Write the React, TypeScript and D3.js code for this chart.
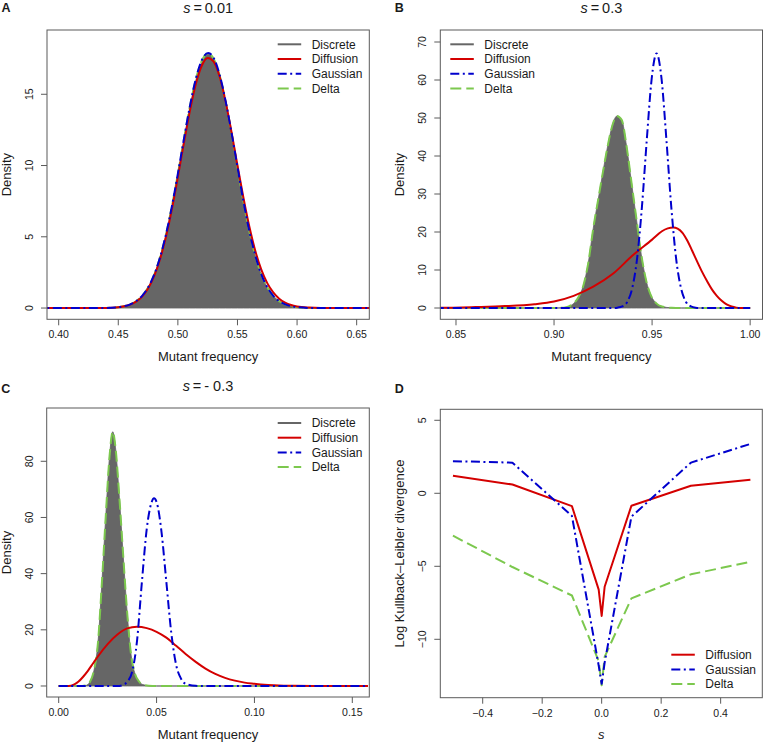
import React from 'react';
import * as d3 from 'd3';

type Pt = [number, number];

// ---- panel A : s = 0.01 ----
const discreteA: Pt[] = [
  [0.38, 0], [0.44, 0.01], [0.45, 0.06], [0.455, 0.13], [0.46, 0.26], [0.465, 0.48], [0.47, 0.85],
  [0.475, 1.43], [0.48, 2.3], [0.485, 3.52], [0.49, 5.12], [0.495, 7.1], [0.5, 9.37], [0.505, 11.75],
  [0.51, 14.04], [0.515, 15.96], [0.52, 17.28], [0.5255, 17.8], [0.53, 17.45], [0.535, 16.29],
  [0.54, 14.46], [0.545, 12.23], [0.55, 9.84], [0.555, 7.45], [0.56, 5.35], [0.565, 3.65], [0.57, 2.35],
  [0.575, 1.45], [0.58, 0.86], [0.585, 0.48], [0.59, 0.26], [0.595, 0.13], [0.6, 0.06], [0.61, 0.01], [0.67, 0],
];
const diffusionA: Pt[] = [
  [0.38, 0], [0.44, 0.01], [0.45, 0.05], [0.455, 0.12], [0.46, 0.24], [0.465, 0.45], [0.47, 0.8],
  [0.475, 1.37], [0.48, 2.22], [0.485, 3.42], [0.49, 5.0], [0.495, 6.95], [0.5, 9.2], [0.505, 11.55],
  [0.51, 13.8], [0.515, 15.7], [0.52, 17.0], [0.525, 17.55], [0.53, 17.3], [0.535, 16.25], [0.54, 14.5],
  [0.545, 12.35], [0.55, 10.0], [0.555, 7.75], [0.56, 5.7], [0.565, 4.0], [0.57, 2.7], [0.575, 1.75],
  [0.58, 1.1], [0.585, 0.66], [0.59, 0.38], [0.595, 0.21], [0.6, 0.11], [0.61, 0.03], [0.62, 0.005], [0.67, 0],
];
const gaussianA: Pt[] = [
  [0.38, 0], [0.44, 0.01], [0.45, 0.06], [0.455, 0.13], [0.46, 0.26], [0.465, 0.48], [0.47, 0.86],
  [0.475, 1.44], [0.48, 2.32], [0.485, 3.55], [0.49, 5.16], [0.495, 7.15], [0.5, 9.43], [0.505, 11.83],
  [0.51, 14.13], [0.515, 16.06], [0.52, 17.38], [0.5255, 17.9], [0.53, 17.55], [0.535, 16.38],
  [0.54, 14.54], [0.545, 12.3], [0.55, 9.9], [0.555, 7.5], [0.56, 5.38], [0.565, 3.67], [0.57, 2.36],
  [0.575, 1.46], [0.58, 0.86], [0.585, 0.48], [0.59, 0.26], [0.595, 0.13], [0.6, 0.06], [0.61, 0.01], [0.67, 0],
];
const deltaA: Pt[] = [
  [0.38, 0], [0.44, 0.01], [0.45, 0.06], [0.455, 0.13], [0.46, 0.26], [0.465, 0.48], [0.47, 0.86],
  [0.475, 1.44], [0.48, 2.31], [0.485, 3.54], [0.49, 5.14], [0.495, 7.13], [0.5, 9.4], [0.505, 11.8],
  [0.51, 14.1], [0.515, 16.02], [0.52, 17.34], [0.5255, 17.86], [0.53, 17.5], [0.535, 16.34],
  [0.54, 14.5], [0.545, 12.27], [0.55, 9.87], [0.555, 7.48], [0.56, 5.37], [0.565, 3.66], [0.57, 2.36],
  [0.575, 1.46], [0.58, 0.86], [0.585, 0.48], [0.59, 0.26], [0.595, 0.13], [0.6, 0.06], [0.61, 0.01], [0.67, 0],
];

// ---- panel B : s = 0.3 ----
const discreteB: Pt[] = [
  [0.83, 0], [0.9, 0], [0.905, 0.1], [0.9075, 0.4], [0.91, 1.2], [0.9125, 2.9], [0.915, 6.0], [0.9175, 12],
  [0.92, 21], [0.9225, 28.5], [0.925, 36], [0.9275, 43], [0.93, 48.5], [0.932, 50.5], [0.9345, 49.5],
  [0.937, 42.5], [0.9395, 33], [0.942, 23.5], [0.9445, 14], [0.947, 7.2], [0.9495, 3.2], [0.952, 1.3],
  [0.955, 0.4], [0.96, 0.05], [0.965, 0], [1.0, 0],
];
const diffusionB: Pt[] = [
  [0.83, 0.03], [0.842, 0.05], [0.86, 0.25], [0.875, 0.5], [0.89, 1.0], [0.9, 1.7], [0.91, 3.2], [0.92, 5.6],
  [0.93, 9.0], [0.94, 13.8], [0.95, 18.0], [0.955, 20.2], [0.958, 20.95], [0.9608, 21.2], [0.963, 20.9],
  [0.9655, 19.8], [0.968, 17.7], [0.9705, 15.0], [0.973, 12.2], [0.9755, 9.5], [0.978, 7.1], [0.9805, 4.9],
  [0.983, 3.2], [0.9855, 1.9], [0.988, 0.95], [0.9905, 0.4], [0.993, 0.1], [0.995, 0], [1.0, 0],
];
const gaussianB: Pt[] = [
  [0.83, 0], [0.93, 0], [0.9323, 0.09], [0.9348, 0.42], [0.9373, 1.6], [0.9398, 5.1], [0.9423, 12.8],
  [0.9448, 26.5], [0.9473, 44.3], [0.9498, 60.4], [0.9523, 67], [0.9548, 60.4], [0.9573, 44.3],
  [0.9598, 26.5], [0.9623, 12.8], [0.9648, 5.1], [0.9673, 1.6], [0.9698, 0.42], [0.9723, 0.09], [0.975, 0], [1.0, 0],
];
const deltaB: Pt[] = discreteB;

// ---- panel C : s = -0.3 ----
const discreteC: Pt[] = [
  [0, 0], [0.012, 0], [0.014, 0.2], [0.016, 1.5], [0.018, 5.5], [0.02, 15], [0.022, 36], [0.024, 60],
  [0.026, 82], [0.0276, 90.5], [0.029, 85], [0.031, 67], [0.033, 46], [0.035, 26], [0.037, 11],
  [0.039, 4.3], [0.041, 1.6], [0.043, 0.5], [0.046, 0.1], [0.05, 0], [0.158, 0],
];
const diffusionC: Pt[] = [
  [0, 0], [0.005, 0], [0.008, 0.6], [0.01, 1.5], [0.0125, 3.3], [0.015, 5.5], [0.0175, 8], [0.02, 10.5],
  [0.025, 14.9], [0.03, 18.3], [0.035, 20.5], [0.04, 21.1], [0.045, 20.6], [0.05, 19.3], [0.055, 17.2],
  [0.06, 14.3], [0.065, 11.3], [0.07, 8.6], [0.075, 6.2], [0.08, 4.3], [0.085, 2.9], [0.09, 1.9],
  [0.095, 1.2], [0.1, 0.8], [0.105, 0.45], [0.11, 0.25], [0.115, 0.12], [0.12, 0.06], [0.13, 0.02],
  [0.14, 0], [0.158, 0],
];
const gaussianC: Pt[] = [
  [0, 0], [0.03, 0], [0.033, 0.4], [0.035, 1.5], [0.0375, 5], [0.04, 16], [0.0425, 37], [0.045, 56],
  [0.0475, 65.5], [0.0487, 66.8], [0.05, 65.5], [0.0525, 55], [0.055, 37], [0.0575, 19], [0.06, 7.5],
  [0.0625, 2.6], [0.065, 0.7], [0.07, 0.05], [0.075, 0], [0.158, 0],
];
const deltaC: Pt[] = discreteC;

// ---- panel D : log KL divergence vs s ----
const sValues = [-0.5, -0.3, -0.1, -0.01, 0, 0.01, 0.1, 0.3, 0.5];
const klDiffusion = [1.2, 0.6, -0.88, -6.6, -8.4, -6.4, -0.85, 0.52, 0.92];
const klGaussian = [2.2, 2.1, -1.55, -11.8, -13.05, -11.6, -1.6, 2.1, 3.38];
const klDelta = [-2.9, -5.05, -7.0, -11.5, -13.15, -11.2, -7.2, -5.55, -4.7];

const ticksA = [0.4, 0.45, 0.5, 0.55, 0.6, 0.65];
const ticksB = [0.85, 0.9, 0.95, 1.0];
const ticksC = [0, 0.05, 0.1, 0.15];
const ticksD = [-0.4, -0.2, 0, 0.2, 0.4];

const FONT = '"Liberation Sans", Arial, Helvetica, sans-serif';
const TEXT = '#1a1a1a';
const FRAME = '#5a5a5a';

const STYLE: Record<string, { color: string; dash?: string }> = {
  Discrete: { color: '#666666' },
  Diffusion: { color: '#d40000' },
  Gaussian: { color: '#0000cd', dash: '9,3.5,2,3.5' },
  Delta: { color: '#7cc84e', dash: '11,5' },
};

interface Series {
  name: string;
  pts: Pt[];
  area?: boolean;
  smooth?: boolean;
}

interface PanelProps {
  id: string;
  box: { left: number; right: number; top: number; bottom: number };
  xDomain: [number, number];
  yDomain: [number, number];
  xTicks: number[];
  yTicks: number[];
  xFmt: (v: number) => string;
  letter: string;
  letterY: number;
  title?: React.ReactNode;
  titleY: number;
  xLabel: React.ReactNode;
  xLabelY: number;
  yLabel: string;
  series: Series[];
  legend: { x: number; y: number; names: string[] };
}

const minus = (s: string) => s.replace('-', '\u2212');

function Panel(p: PanelProps) {
  const { left, right, top, bottom } = p.box;
  const x = d3.scaleLinear().domain(p.xDomain).range([left, right]);
  const y = d3.scaleLinear().domain(p.yDomain).range([bottom, top]);
  const cx = (left + right) / 2;
  const cy = (top + bottom) / 2;
  const clipId = `clip-${p.id}`;

  return (
    <g fontFamily={FONT} fill={TEXT}>
      <clipPath id={clipId}>
        <rect x={left} y={top} width={right - left} height={bottom - top} />
      </clipPath>
      <g clipPath={`url(#${clipId})`}>
        {p.series.map((s) => {
          const curve = s.smooth === false ? d3.curveLinear : d3.curveMonotoneX;
          if (s.area) {
            const a = d3.area<Pt>().x((d) => x(d[0])).y0(y(0)).y1((d) => y(d[1])).curve(curve);
            return <path key={s.name + 'a'} d={a(s.pts) ?? ''} fill="#666666" stroke="#666666" strokeWidth={0.8} />;
          }
          const l = d3.line<Pt>().x((d) => x(d[0])).y((d) => y(d[1])).curve(curve);
          const st = STYLE[s.name];
          return (
            <path key={s.name} d={l(s.pts) ?? ''} fill="none" stroke={st.color} strokeWidth={2}
              strokeDasharray={st.dash} strokeLinejoin="round" />
          );
        })}
      </g>
      <rect x={left} y={top} width={right - left} height={bottom - top} fill="none" stroke={FRAME} strokeWidth={1} />

      {p.xTicks.map((t) => (
        <g key={'x' + t}>
          <line x1={x(t)} x2={x(t)} y1={bottom} y2={bottom + 6} stroke={FRAME} strokeWidth={1} />
          <text x={x(t)} y={bottom + 19} fontSize={10.5} textAnchor="middle">{p.xFmt(t)}</text>
        </g>
      ))}
      {p.yTicks.map((t) => (
        <g key={'y' + t}>
          <line x1={left - 6} x2={left} y1={y(t)} y2={y(t)} stroke={FRAME} strokeWidth={1} />
          <text transform={`translate(${left - 14},${y(t)}) rotate(-90)`} fontSize={10.5} textAnchor="middle">
            {minus(String(t))}
          </text>
        </g>
      ))}

      <text x={cx} y={p.xLabelY} fontSize={13} textAnchor="middle">{p.xLabel}</text>
      <text transform={`translate(${left - 36},${cy}) rotate(-90)`} fontSize={13} textAnchor="middle">{p.yLabel}</text>
      {p.title ? <text x={cx} y={p.titleY} fontSize={14.5} textAnchor="middle">{p.title}</text> : null}
      <text x={left - 45.5} y={p.letterY} fontSize={12.5} fontWeight="bold">{p.letter}</text>

      {p.legend.names.map((n, i) => {
        const ly = p.legend.y + i * 14.7;
        const st = STYLE[n];
        return (
          <g key={'lg' + n}>
            <line x1={p.legend.x} x2={p.legend.x + 23.5} y1={ly} y2={ly} stroke={st.color} strokeWidth={2}
              strokeDasharray={st.dash} />
            <text x={p.legend.x + 34} y={ly + 4.3} fontSize={12}>{n}</text>
          </g>
        );
      })}
    </g>
  );
}

const fmt2 = (v: number) => v.toFixed(2);
const fmt1 = (v: number) => minus(v.toFixed(1));
const allNames = ['Discrete', 'Diffusion', 'Gaussian', 'Delta'];

function densitySeries(disc: Pt[], diff: Pt[], gau: Pt[], del: Pt[]): Series[] {
  return [
    { name: 'Discrete', pts: disc, area: true },
    { name: 'Delta', pts: del },
    { name: 'Diffusion', pts: diff },
    { name: 'Gaussian', pts: gau },
  ];
}

const zip = (xs: number[], ys: number[]): Pt[] => xs.map((v, i) => [v, ys[i]]);

export default function App() {
  return (
    <svg width={764} height={744} style={{ position: 'absolute', left: 0, top: 0, background: '#fff' }}>
      <Panel
        id="A"
        box={{ left: 47, right: 369.3, top: 30, bottom: 319.3 }}
        xDomain={[0.3902, 0.6606]}
        yDomain={[-0.79, 19.51]}
        xTicks={ticksA}
        yTicks={[0, 5, 10, 15]}
        xFmt={fmt2}
        letter="A"
        letterY={11.7}
        title={<><tspan fontStyle="italic">s</tspan>{'\u2009=\u20090.01'}</>}
        titleY={12.7}
        xLabel="Mutant frequency"
        xLabelY={361}
        yLabel="Density"
        series={densitySeries(discreteA, diffusionA, gaussianA, deltaA)}
        legend={{ x: 277.7, y: 44.3, names: allNames }}
      />
      <Panel
        id="B"
        box={{ left: 440.3, right: 762.5, top: 30, bottom: 319.3 }}
        xDomain={[0.842, 1.0063]}
        yDomain={[-2.97, 73.16]}
        xTicks={ticksB}
        yTicks={[0, 10, 20, 30, 40, 50, 60, 70]}
        xFmt={fmt2}
        letter="B"
        letterY={11.7}
        title={<><tspan fontStyle="italic">s</tspan>{'\u2009=\u20090.3'}</>}
        titleY={12.7}
        xLabel="Mutant frequency"
        xLabelY={361}
        yLabel="Density"
        series={densitySeries(discreteB, diffusionB, gaussianB, deltaB)}
        legend={{ x: 450.3, y: 44.3, names: allNames }}
      />
      <Panel
        id="C"
        box={{ left: 46.7, right: 369.3, top: 408, bottom: 697 }}
        xDomain={[-0.00613, 0.15868]}
        yDomain={[-3.92, 98.97]}
        xTicks={ticksC}
        yTicks={[0, 20, 40, 60, 80]}
        xFmt={fmt2}
        letter="C"
        letterY={392.7}
        title={<><tspan fontStyle="italic">s</tspan>{'\u2009=\u2009- 0.3'}</>}
        titleY={391}
        xLabel="Mutant frequency"
        xLabelY={738.5}
        yLabel="Density"
        series={densitySeries(discreteC, diffusionC, gaussianC, deltaC)}
        legend={{ x: 277.7, y: 423, names: allNames }}
      />
      <Panel
        id="D"
        box={{ left: 440.3, right: 762.3, top: 409.3, bottom: 697.7 }}
        xDomain={[-0.5425, 0.54]}
        yDomain={[-14.0, 5.753]}
        xTicks={ticksD}
        yTicks={[-10, -5, 0, 5]}
        xFmt={fmt1}
        letter="D"
        letterY={392.7}
        titleY={391}
        xLabel={<tspan fontStyle="italic">s</tspan>}
        xLabelY={738.5}
        yLabel={'Log Kullback\u2013Leibler divergence'}
        series={[
          { name: 'Delta', pts: zip(sValues, klDelta), smooth: false },
          { name: 'Diffusion', pts: zip(sValues, klDiffusion), smooth: false },
          { name: 'Gaussian', pts: zip(sValues, klGaussian), smooth: false },
        ]}
        legend={{ x: 671.3, y: 654.7, names: ['Diffusion', 'Gaussian', 'Delta'] }}
      />
    </svg>
  );
}
